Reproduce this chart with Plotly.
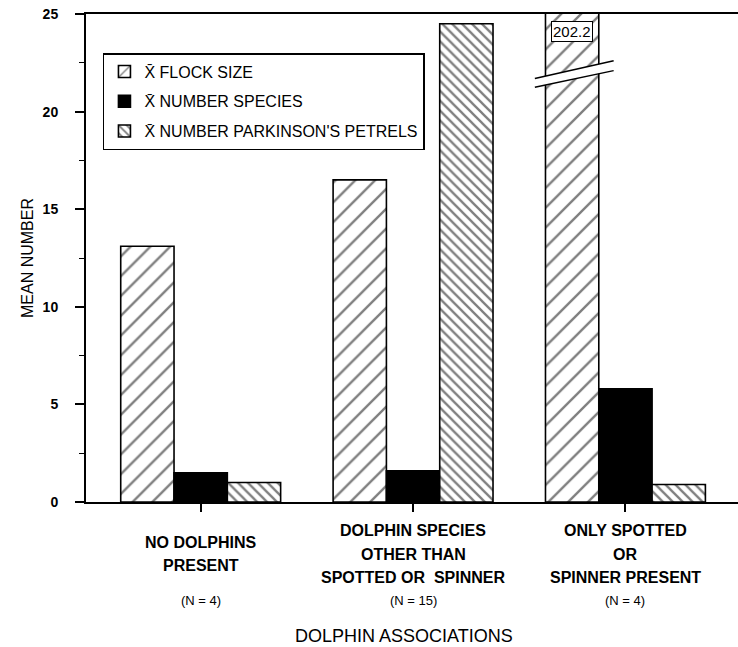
import plotly.graph_objects as go

# data
cat_lines = [
    ["NO DOLPHINS", "PRESENT"],
    ["DOLPHIN SPECIES", "OTHER THAN", "SPOTTED OR\u00a0 SPINNER"],
    ["ONLY SPOTTED", "OR", "SPINNER PRESENT"],
]
sample_sizes = [4, 15, 4]
flock_size = [13.1, 16.5, 202.2]
num_species = [1.5, 1.6, 5.8]
num_petrels = [1.0, 24.5, 0.9]
series_names = ["X\u0304 FLOCK SIZE", "X\u0304 NUMBER SPECIES", "X\u0304 NUMBER PARKINSON'S PETRELS"]

FONT = "Liberation Sans, Arial, sans-serif"
y_max = 25
bargap = 0.247
x = list(range(len(cat_lines)))

fig = go.Figure()
fig.add_trace(go.Bar(
    x=x, y=flock_size, name=series_names[0], legendgroup="a",
    marker=dict(color="white", line=dict(color="black", width=1.6),
                pattern=dict(shape="/", fgcolor="black", bgcolor="white", size=14, solidity=0.17)),
))
fig.add_trace(go.Bar(
    x=x, y=num_species, name=series_names[1], legendgroup="b",
    marker=dict(color="black", line=dict(color="black", width=1.6)),
))
fig.add_trace(go.Bar(
    x=x, y=num_petrels, name=series_names[2], legendgroup="c",
    marker=dict(color="white", line=dict(color="black", width=1.6),
                pattern=dict(shape="\\", fgcolor="black", bgcolor="white", size=7, solidity=0.33)),
))

annotations = []
# category labels under the axis
for i, lines in enumerate(cat_lines):
    n = len(lines)
    for j, txt in enumerate(lines):
        offset = 52 + (j - (n - 1) / 2) * 23.5
        annotations.append(dict(
            x=x[i], y=0, xref="x", yref="paper", text=txt, showarrow=False,
            yshift=-offset, yanchor="middle",
            font=dict(family=FONT, size=16, color="black", weight="bold"),
        ))
    annotations.append(dict(
        x=x[i], y=0, xref="x", yref="paper", text="(N = %d)" % sample_sizes[i],
        showarrow=False, yshift=-98, yanchor="middle",
        font=dict(family=FONT, size=13, color="black"),
    ))

annotations.append(dict(
    x=0.5, y=0, xref="paper", yref="paper", text="DOLPHIN ASSOCIATIONS", showarrow=False,
    yshift=-134, yanchor="middle", xshift=-8,
    font=dict(family=FONT, size=18, color="black"),
))
annotations.append(dict(
    x=0, y=0.5, xref="paper", yref="paper", text="MEAN NUMBER", showarrow=False,
    textangle=-90, xshift=-59, xanchor="center",
    font=dict(family=FONT, size=16, color="black"),
))

# broken flock-size bar (value off the scale)
w = (1 - bargap) / 3
xc = x[2] - w
shapes = [
    dict(type="path", xref="x", yref="y", layer="above",
         path="M%f,%f L%f,%f L%f,%f L%f,%f Z" % (
             xc - w / 2 - 0.05, 21.25, xc + w / 2 + 0.07, 22.1,
             xc + w / 2 + 0.07, 22.6, xc - w / 2 - 0.05, 21.7),
         fillcolor="white", line=dict(width=0)),
    dict(type="line", xref="x", yref="y", layer="above",
         x0=xc - w / 2 - 0.05, y0=21.25, x1=xc + w / 2 + 0.07, y1=22.1,
         line=dict(color="black", width=1.5)),
    dict(type="line", xref="x", yref="y", layer="above",
         x0=xc - w / 2 - 0.05, y0=21.7, x1=xc + w / 2 + 0.07, y1=22.6,
         line=dict(color="black", width=1.5)),
]
annotations.append(dict(
    x=xc, y=24.1, xref="x", yref="y", text=str(flock_size[2]), showarrow=False,
    bgcolor="white", bordercolor="black", borderwidth=1, borderpad=1,
    font=dict(family=FONT, size=15, color="black"),
))

fig.update_layout(
    width=738, height=647,
    margin=dict(l=86, r=0, t=14, b=145, autoexpand=False),
    paper_bgcolor="white", plot_bgcolor="white",
    barmode="group", bargap=bargap, bargroupgap=0,
    font=dict(family=FONT, color="black"),
    showlegend=True,
    legend=dict(
        x=0.026, y=0.92, xanchor="left", yanchor="top",
        bordercolor="black", borderwidth=1.5, bgcolor="white",
        font=dict(family=FONT, size=16, color="black"),
        traceorder="grouped", tracegroupgap=6,
    ),
    xaxis=dict(
        range=[-0.54, 2.53], tickvals=x, ticktext=["", "", ""], automargin=False,
        showline=True, linecolor="black", linewidth=2, mirror=True,
        ticks="outside", ticklen=8, tickwidth=1.5, tickcolor="black",
        showgrid=False, zeroline=False,
    ),
    yaxis=dict(
        range=[0, y_max], dtick=5, tick0=0, automargin=False,
        showline=True, linecolor="black", linewidth=2,
        ticks="outside", ticklen=9, tickwidth=1.5, tickcolor="black",
        minor=dict(dtick=2.5, ticks="outside", ticklen=5, tickwidth=1.2, tickcolor="black"),
        ticklabelstandoff=14, ticklabeloverflow="allow",
        tickfont=dict(family=FONT, size=14, color="black", weight="bold"),
        showgrid=False, zeroline=False,
    ),
    annotations=annotations,
    shapes=shapes,
)

# drop the page's default 8px body margin so the figure sits at 0,0
fig.write_html("out.html", config={"displayModeBar": False},
               post_script="document.body.style.margin='0';")
